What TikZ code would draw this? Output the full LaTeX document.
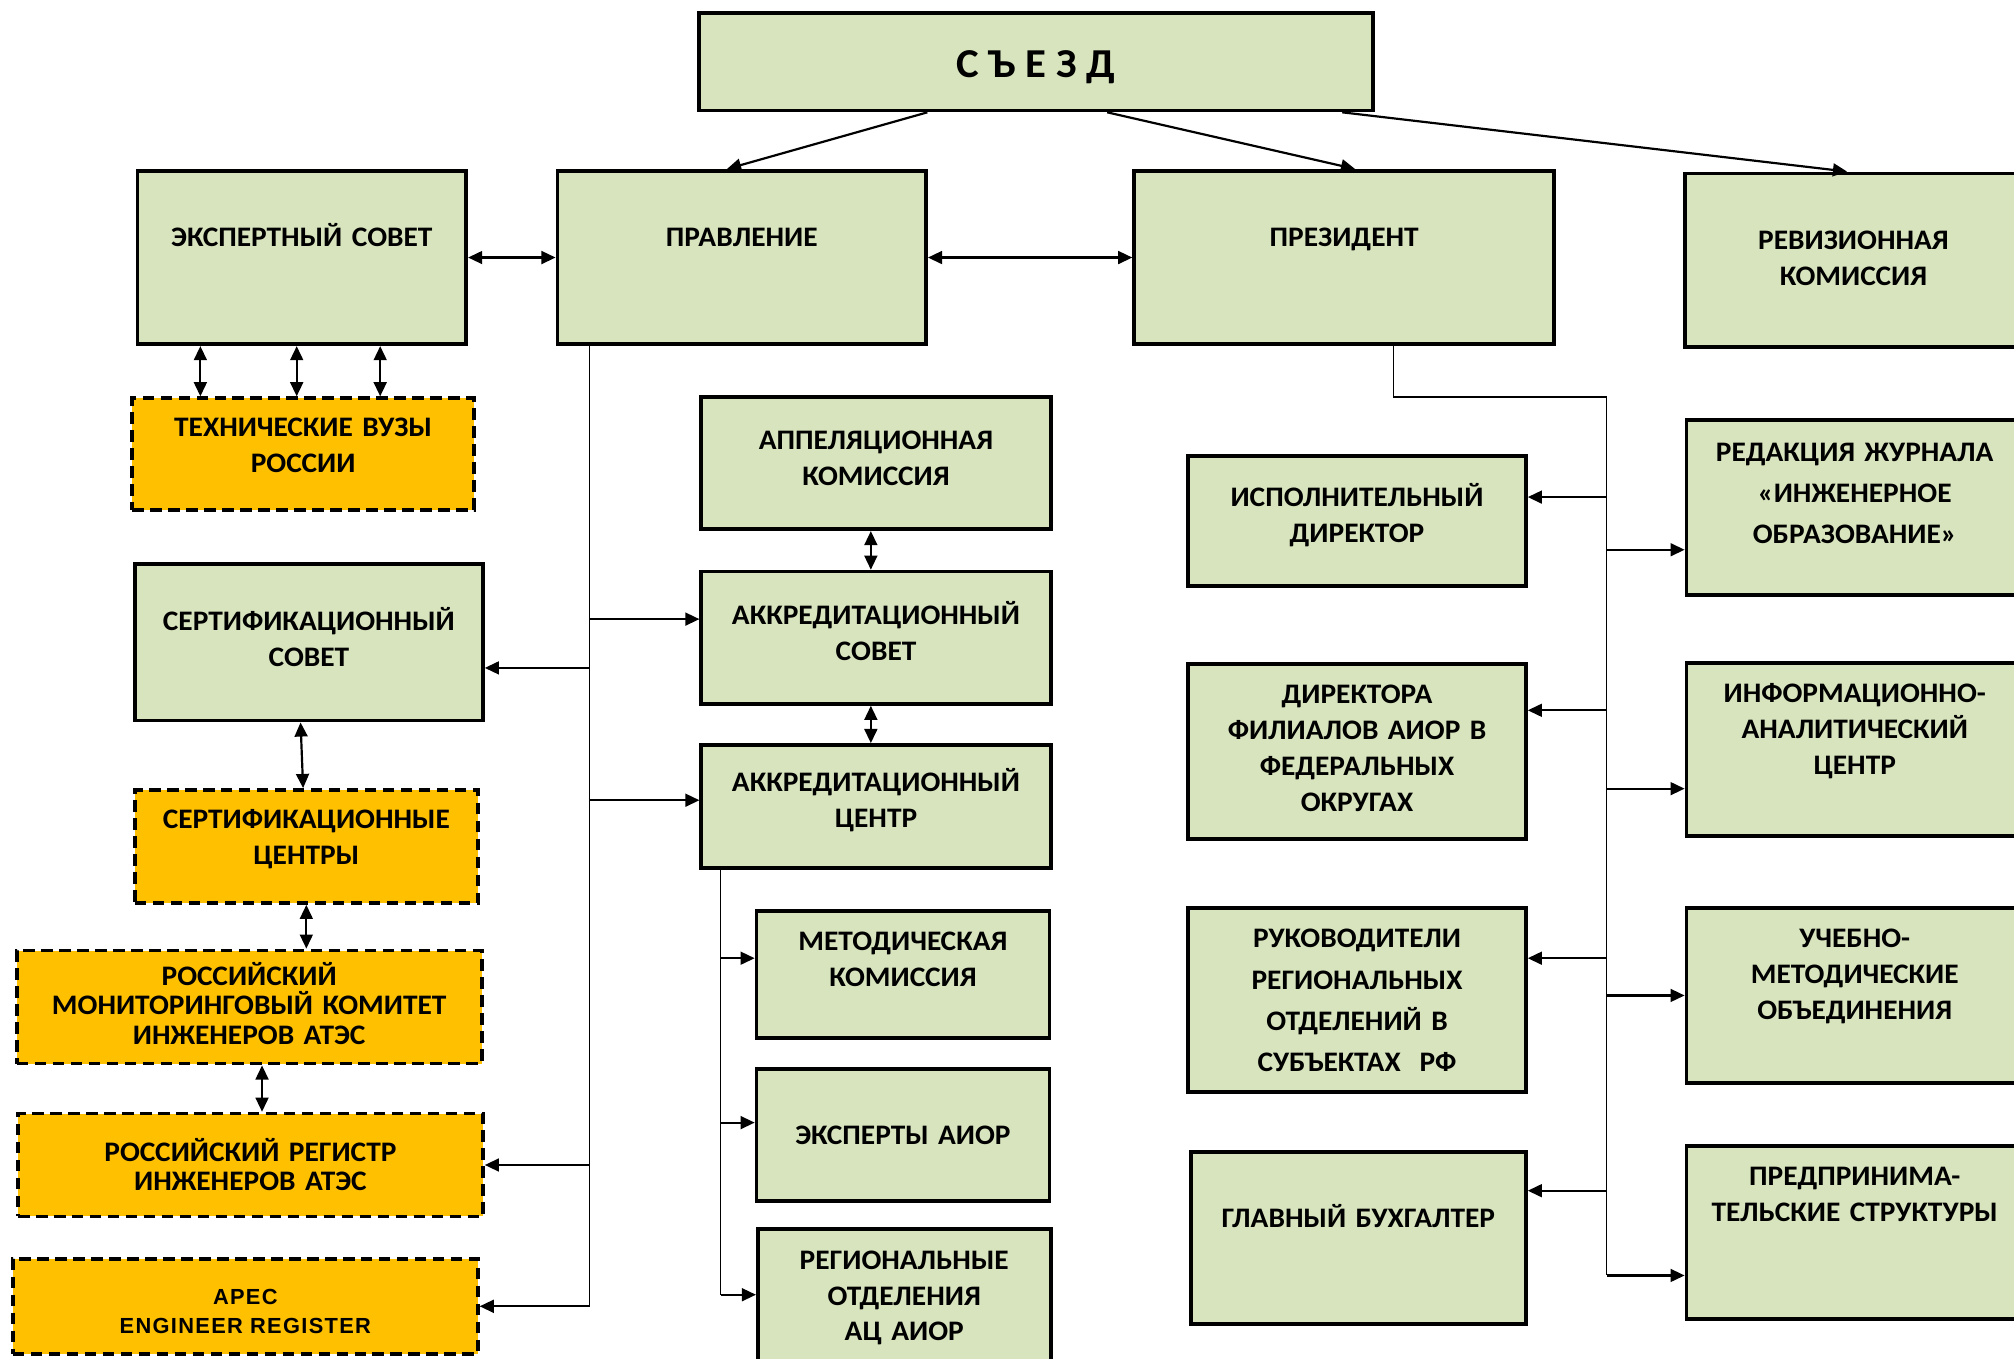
\documentclass[tikz,border=0pt]{standalone}
\usepackage{fontspec}
\setmainfont{Carlito}[FakeStretch=1.04]
\newfontfamily\apecfont[LetterSpace=6]{Liberation Sans}
\usetikzlibrary{arrows.meta}

\definecolor{boxgreen}{RGB}{215,228,189}
\definecolor{boxorange}{RGB}{255,192,0}

\begin{document}
\begin{tikzpicture}[x=1pt, y=-1pt,
  >={Triangle[length=11pt, width=10pt]},
  box/.style={draw, line width=2.9pt, fill=boxgreen, inner sep=0pt, align=center,
    text height=17pt, font=\bfseries\fontsize{22}{28}\selectfont},
  boxw/.style={minimum width=#1, text width=#1-8},
  ext/.style={box, fill=boxorange, dash pattern=on 9pt off 5pt},
  tight/.style={font=\bfseries\fontsize{22}{23}\selectfont},
  loose/.style={font=\bfseries\fontsize{22}{32}\selectfont},
  arr/.style={line width=1.7pt, ->},
  dbl/.style={line width=1.7pt, <->},
  bus/.style={line width=1pt}]
  \useasboundingbox (0,0) rectangle (1568,1058);
  \clip (0,0) rectangle (1568,1058);

  % Congress
  \node[box, minimum width=525, minimum height=76, text height=24pt, text depth=0pt,
    font=\bfseries\fontsize{32}{36}\selectfont] (sz) at (806.5,48) {С Ъ Е З Д};

  % First row
  \node[box, boxw=256, minimum height=135, text depth=34] (ex) at (235,200.5) {ЭКСПЕРТНЫЙ СОВЕТ};
  \node[box, boxw=287, minimum height=135, text depth=34] (pr) at (577.5,200.5) {ПРАВЛЕНИЕ};
  \node[box, boxw=327, minimum height=135, text depth=34] (prez) at (1046.5,200.5) {ПРЕЗИДЕНТ};
  \node[box, boxw=262, minimum height=135, text depth=34] (rev) at (1443,202.5) {РЕВИЗИОННАЯ\\КОМИССИЯ};

  % Left column
  \node[ext, boxw=266, minimum height=87, text depth=44] (vuz) at (236,353.5) {ТЕХНИЧЕСКИЕ ВУЗЫ\\РОССИИ};
  \node[box, boxw=271, minimum height=122, text depth=35] (ssov) at (240.5,500) {СЕРТИФИКАЦИОННЫЙ\\СОВЕТ};
  \node[ext, boxw=267, minimum height=88, text depth=45] (scen) at (238.5,659) {СЕРТИФИКАЦИОННЫЕ\\ЦЕНТРЫ};
  \node[ext, tight, boxw=362, minimum height=88, text depth=51] (mon) at (194,784) {РОССИЙСКИЙ\\МОНИТОРИНГОВЫЙ КОМИТЕТ\\ИНЖЕНЕРОВ АТЭС};
  \node[ext, tight, boxw=362, minimum height=80, text depth=23] (reg) at (195,907) {РОССИЙСКИЙ РЕГИСТР\\ИНЖЕНЕРОВ АТЭС};
  \node[ext, boxw=362, minimum height=74, text depth=20,
    font=\apecfont\bfseries\fontsize{17}{23}\selectfont] (apec) at (191,1017) {APEC\\ENGINEER REGISTER};

  % Middle column
  \node[box, boxw=272, minimum height=103, text depth=38] (apl) at (682,360.5) {АППЕЛЯЦИОННАЯ\\КОМИССИЯ};
  \node[box, boxw=272, minimum height=103, text depth=38] (aks) at (682,496.5) {АККРЕДИТАЦИОННЫЙ\\СОВЕТ};
  \node[box, boxw=272, minimum height=96, text depth=41] (akc) at (682,628) {АККРЕДИТАЦИОННЫЙ\\ЦЕНТР};
  \node[box, boxw=228, minimum height=99, text depth=54] (met) at (703,758.5) {МЕТОДИЧЕСКАЯ\\КОМИССИЯ};
  \node[box, boxw=228, minimum height=103, text depth=2] (eks) at (703,883.5) {ЭКСПЕРТЫ АИОР};
  \node[box, boxw=228, minimum height=133, text depth=88] (rot) at (704,1023.5) {РЕГИОНАЛЬНЫЕ\\ОТДЕЛЕНИЯ\\АЦ АИОР};

  % President column
  \node[box, boxw=263, minimum height=101, text depth=40] (isp) at (1056.5,405.5) {ИСПОЛНИТЕЛЬНЫЙ\\ДИРЕКТОР};
  \node[box, boxw=263, minimum height=136, text depth=91] (fil) at (1056.5,585) {ДИРЕКТОРА\\ФИЛИАЛОВ АИОР В\\ФЕДЕРАЛЬНЫХ\\ОКРУГАХ};
  \node[box, loose, boxw=263, minimum height=143, text depth=98] (ruk) at (1056.5,778.5) {РУКОВОДИТЕЛИ\\РЕГИОНАЛЬНЫХ\\ОТДЕЛЕНИЙ В\\СУБЪЕКТАХ~~РФ};
  \node[box, boxw=261, minimum height=134, text depth=33] (bux) at (1057.5,964) {ГЛАВНЫЙ БУХГАЛТЕР};

  % Right column
  \node[box, loose, boxw=262, minimum height=136, text depth=89] (red) at (1444,395) {РЕДАКЦИЯ ЖУРНАЛА\\«ИНЖЕНЕРНОЕ\\ОБРАЗОВАНИЕ»};
  \node[box, boxw=262, minimum height=135, text depth=90] (inf) at (1444,583.5) {ИНФОРМАЦИОННО-\\АНАЛИТИЧЕСКИЙ\\ЦЕНТР};
  \node[box, boxw=262, minimum height=136, text depth=91] (uch) at (1444,775) {УЧЕБНО-\\МЕТОДИЧЕСКИЕ\\ОБЪЕДИНЕНИЯ};
  \node[box, boxw=262, minimum height=135, text depth=90] (pred) at (1444,959.5) {ПРЕДПРИНИМА-\\ТЕЛЬСКИЕ СТРУКТУРЫ};

  % From the congress
  \draw[arr] ([xshift=-84.5pt]sz.south) -- ([xshift=-11.5pt]pr.north);
  \draw[arr] ([xshift=55.5pt]sz.south) -- ([xshift=8.5pt]prez.north);
  \draw[arr] ([xshift=238.5pt]sz.south) -- ([xshift=-5pt]rev.north);

  % Links of the board
  \draw[dbl] (ex.east) -- (pr.west);
  \draw[dbl] (pr.east) -- (prez.west);
  \foreach \dx in {-79,-4,61}
    \draw[dbl] ([xshift=\dx pt]ex.south) -- ([xshift=\dx pt]ex.south |- vuz.north);

  % Board bus
  \coordinate (pbus) at ([xshift=-118.5pt]pr.south);
  \draw[bus] (pbus) -- (pbus |- apec.east);
  \draw[arr] ([yshift=14.5pt]aks.west -| pbus) -- ([yshift=14.5pt]aks.west);
  \draw[arr] ([yshift=5pt]akc.west -| pbus) -- ([yshift=5pt]akc.west);
  \draw[arr] ([yshift=-20pt]ssov.east -| pbus) -- ([yshift=-20pt]ssov.east);
  \draw[arr] (reg.east -| pbus) -- (reg.east);
  \draw[arr] (apec.east -| pbus) -- (apec.east);

  % Accreditation column
  \draw[dbl] ([xshift=-4pt]apl.south) -- ([xshift=-4pt]aks.north);
  \draw[dbl] ([xshift=-4pt]aks.south) -- ([xshift=-4pt]akc.north);
  \coordinate (abus) at ([xshift=-121pt]akc.south);
  \draw[bus] (abus) -- ([yshift=15.5pt]rot.west -| abus);
  \draw[arr] ([yshift=12.5pt]met.west -| abus) -- ([yshift=12.5pt]met.west);
  \draw[arr] ([yshift=9.5pt]eks.west -| abus) -- ([yshift=9.5pt]eks.west);
  \draw[arr] ([yshift=15.5pt]rot.west -| abus) -- ([yshift=15.5pt]rot.west);

  % Certification chain
  \draw[dbl] ([xshift=-6.5pt]ssov.south) -- ([xshift=-2.5pt]scen.north);
  \draw[dbl] (scen.south) -- (scen.south |- mon.north);
  \draw[dbl] ([xshift=10pt]mon.south) -- ([xshift=10pt]mon.south |- reg.north);

  % President bus
  \coordinate (rbus) at (1251,309);
  \draw[bus] ([xshift=38.5pt]prez.south) |- (rbus) -- ([yshift=-33.5pt]pred.west -| rbus);
  \draw[arr] ([yshift=18.5pt]isp.east -| rbus) -- ([yshift=18.5pt]isp.east);
  \draw[arr] ([yshift=-33pt]red.west -| rbus) -- ([yshift=-33pt]red.west);
  \draw[arr] ([yshift=32pt]fil.east -| rbus) -- ([yshift=32pt]fil.east);
  \draw[arr] ([yshift=-30.5pt]inf.west -| rbus) -- ([yshift=-30.5pt]inf.west);
  \draw[arr] ([yshift=32.5pt]ruk.east -| rbus) -- ([yshift=32.5pt]ruk.east);
  \draw[arr] (uch.west -| rbus) -- (uch.west);
  \draw[arr] ([yshift=37pt]bux.east -| rbus) -- ([yshift=37pt]bux.east);
  \draw[arr] ([yshift=-33.5pt]pred.west -| rbus) -- ([yshift=-33.5pt]pred.west);
\end{tikzpicture}
\end{document}
